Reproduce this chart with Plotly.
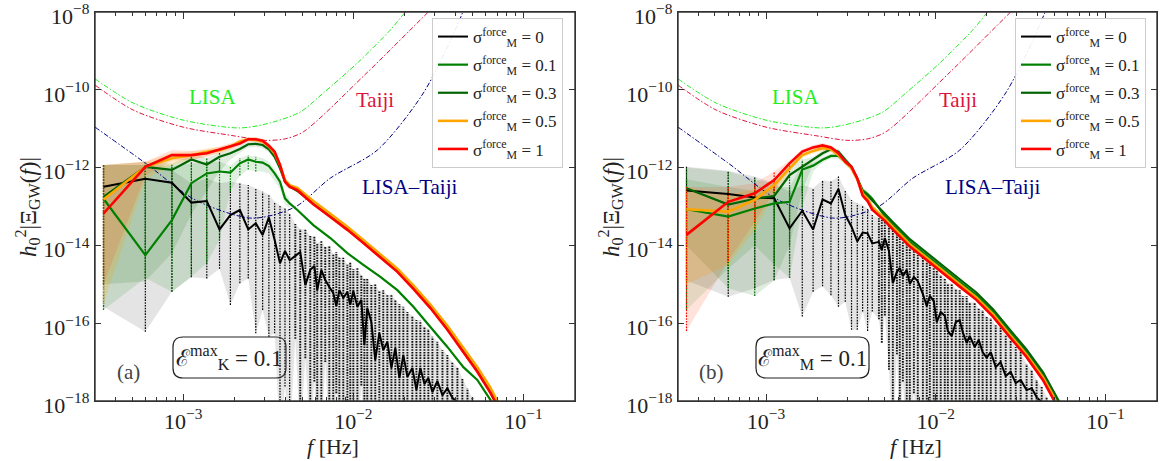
import numpy as np
import plotly.graph_objects as go

W, H = 1167, 461
FONT = "Liberation Serif"

# ------------------------------------------------------------------
# DATA  (frequencies in Hz, amplitudes given as log10 values)
# ------------------------------------------------------------------
freq_bins = [3.40e-4, 5.99e-4, 8.58e-4, 1.117e-3, 1.376e-3, 1.635e-3, 1.894e-3,
             2.153e-3, 2.412e-3, 2.671e-3, 2.930e-3, 3.189e-3, 3.448e-3, 3.707e-3,
             3.966e-3, 4.225e-3]

sigma_labels = ["0", "0.1", "0.3", "0.5", "1"]

# ---------------- panel (a) ----------------
a_s0_mean = [-12.49, -12.29, -12.39, -12.90, -12.86, -13.59, -13.22, -13.09, -13.59, -13.43,
             -13.73, -13.28, -13.86, -14.46, -14.14, -14.38]
a_s0_up = [-11.93, -11.93, -12.06, -12.40, -12.28, -12.40, -12.36, -12.40, -12.45, -12.53,
           -12.62, -12.70, -12.88, -12.96, -13.05, -13.18]
a_s0_lo = [-15.58, -16.22, -15.19, -14.82, -14.85, -14.60, -15.53, -14.97, -14.85, -16.26,
           -15.66, -16.35, -16.26, -19.0, -17.63, -19.0]
a_s0_hf_logf = [-2.341, -2.312, -2.282, -2.253, -2.229, -2.212, -2.188, -2.165, -2.141, -2.118,
                -2.100, -2.082, -2.059, -2.035, -2.018, -2.000, -1.976, -1.953, -1.935, -1.918,
                -1.894, -1.871, -1.847, -1.824, -1.800, -1.776, -1.753, -1.729, -1.706, -1.682,
                -1.653, -1.629, -1.606, -1.582, -1.559, -1.535, -1.506, -1.476, -1.447, -1.418,
                -1.388, -1.359, -1.329, -1.300]
a_s0_hf_mean = [-14.27, -14.17, -15.02, -14.63, -14.53, -15.15, -14.63, -14.89, -15.07, -15.22,
                -15.56, -15.15, -15.35, -15.20, -15.53, -15.17, -15.58, -15.40, -16.56, -15.61,
                -15.97, -16.95, -16.25, -16.69, -16.48, -17.15, -16.64, -17.41, -16.82, -17.38,
                -17.15, -17.72, -17.15, -17.56, -17.41, -17.77, -17.49, -17.85, -17.67, -17.92,
                -18.03, -18.13, -18.30, -18.50]
a_s0_hf_up = [-13.45, -13.58, -13.60, -13.76, -13.78, -13.94, -13.89, -14.04, -14.01, -14.22,
              -14.17, -14.32, -14.32, -14.50, -14.43, -14.61, -14.58, -14.76, -14.86, -14.84,
              -15.02, -14.99, -15.17, -15.15, -15.28, -15.25, -15.40, -15.51, -15.58, -15.71,
              -15.81, -15.92, -15.94, -16.10, -16.15, -16.35, -16.48, -16.69, -16.82, -17.00,
              -17.13, -17.41, -17.67, -17.92]
a_s0_hf_lo = [-16.4, -19.0, -16.9, -19.0, -17.5, -19.0, -19.0, -17.0, -19.0, -19.0,
              -17.8, -19.0, -19.0, -18.2, -19.0, -19.0, -19.0, -17.6, -19.0, -19.0,
              -19.0, -19.0, -18.0, -19.0, -19.0, -19.0, -19.0, -19.0, -19.0, -19.0,
              -19.0, -19.0, -19.0, -19.0, -19.0, -19.0, -19.0, -19.0, -19.0, -19.0,
              -19.0, -19.0, -19.0, -19.0]

a_s01_mean = [-12.80, -14.25, -13.35, -12.40, -12.15, -12.10, -12.13, -11.89, -11.79, -11.85,
              -11.87, -11.96, -12.15, -12.36, -12.79, -12.92]
a_s01_up = [-11.93, -11.93, -11.95, -11.90, -11.85, -11.85, -11.95, -11.75, -11.68, -11.72,
            -11.75, -11.85, -12.03, -12.25, -12.65, -12.80]
a_s01_lo = [-15.66, -14.84, -15.19, -14.80, -14.46, -13.86, -12.60, -12.20, -12.05, -12.10,
            -12.10, -12.15, -12.35, -12.55, -12.95, -13.05]
a_s03_mean = [-12.75, -11.98, -12.06, -11.79, -11.92, -11.72, -11.63, -11.52, -11.40, -11.39,
              -11.42, -11.53, -11.72, -12.02, -12.36, -12.49]
a_s03_up = [-11.93, -11.85, -11.90, -11.65, -11.75, -11.62, -11.55, -11.45, -11.33, -11.32,
            -11.35, -11.46, -11.65, -11.95, -12.28, -12.42]
a_s03_lo = [-15.00, -14.93, -14.20, -13.20, -12.60, -12.10, -11.80, -11.62, -11.48, -11.47,
            -11.50, -11.61, -11.80, -12.10, -12.45, -12.57]
a_s05_mean = [-12.82, -11.98, -11.76, -11.68, -11.59, -11.55, -11.46, -11.33, -11.27, -11.29,
              -11.33, -11.46, -11.63, -11.93, -12.32, -12.45]
a_s05_up = [-11.93, -11.85, -11.62, -11.58, -11.50, -11.47, -11.39, -11.27, -11.21, -11.23,
            -11.27, -11.39, -11.56, -11.86, -12.25, -12.38]
a_s05_lo = [-15.50, -12.30, -11.95, -11.80, -11.70, -11.64, -11.54, -11.40, -11.33, -11.35,
            -11.40, -11.53, -11.70, -12.00, -12.40, -12.52]
a_s1_mean = [-13.18, -11.98, -11.68, -11.68, -11.63, -11.53, -11.46, -11.38, -11.27, -11.27,
             -11.31, -11.44, -11.59, -11.93, -12.36, -12.49]
a_s1_up = [-11.93, -11.85, -11.55, -11.57, -11.54, -11.45, -11.39, -11.31, -11.21, -11.21,
           -11.25, -11.37, -11.52, -11.86, -12.29, -12.42]
a_s1_lo = [-15.00, -12.20, -11.82, -11.80, -11.73, -11.62, -11.54, -11.45, -11.33, -11.33,
           -11.38, -11.51, -11.66, -12.00, -12.43, -12.56]

a_col_hf_logf = [-2.329, -2.235, -2.135, -2.035, -1.941, -1.841, -1.741, -1.647, -1.547,
                 -1.447, -1.353, -1.271, -1.194, -1.120]
a_s01_hf = [-13.09, -13.48, -13.81, -14.20, -14.50, -14.81, -15.15, -15.58, -16.10,
            -16.61, -17.13, -17.46, -17.97, -18.60]
a_s03_hf = [-12.60, -12.93, -13.25, -13.58, -13.92, -14.28, -14.66, -15.10, -15.59,
            -16.15, -16.72, -17.23, -17.77, -18.40]
a_s05_hf = [-12.52, -12.86, -13.19, -13.52, -13.86, -14.22, -14.60, -15.03, -15.52,
            -16.07, -16.63, -17.13, -17.66, -18.30]
a_s1_hf = [-12.58, -12.94, -13.27, -13.60, -13.94, -14.30, -14.68, -15.12, -15.61,
           -16.17, -16.74, -17.25, -17.79, -18.40]

# ---------------- panel (b) ----------------
b_s0_mean = [-12.59, -12.68, -12.77, -12.79, -13.56, -13.11, -13.59, -12.82, -12.92, -12.55,
             -13.22, -13.52, -13.90, -13.67, -13.69, -13.95]
b_s0_up = [-11.98, -12.08, -12.23, -12.40, -12.62, -12.45, -12.53, -12.32, -12.36, -12.23,
           -12.58, -12.83, -12.92, -12.96, -13.05, -13.22]
b_s0_lo = [-14.90, -15.32, -15.10, -14.89, -14.84, -15.83, -15.19, -15.05, -15.28, -15.58,
           -15.45, -16.17, -16.17, -15.70, -16.20, -15.70]
b_s0_hf_logf = [-2.335, -2.318, -2.300, -2.276, -2.253, -2.229, -2.212, -2.194, -2.171, -2.153,
                -2.129, -2.106, -2.076, -2.053, -2.035, -2.012, -1.994, -1.971, -1.947, -1.929,
                -1.906, -1.882, -1.859, -1.841, -1.818, -1.800, -1.771, -1.747, -1.724, -1.700,
                -1.676, -1.647, -1.618, -1.588, -1.559, -1.529, -1.500, -1.465, -1.435, -1.406,
                -1.376, -1.347]
b_s0_hf_mean = [-13.91, -14.12, -13.81, -14.14, -14.97, -14.68, -14.58, -14.79, -14.63, -14.99,
                -14.81, -14.92, -15.25, -15.56, -15.30, -15.43, -15.97, -15.71, -15.81, -16.20,
                -16.33, -15.97, -15.92, -16.23, -16.51, -16.33, -16.61, -16.43, -16.74, -16.89,
                -16.74, -17.13, -17.00, -17.36, -17.25, -17.54, -17.46, -17.72, -17.67, -17.90,
                -18.03, -18.20]
b_s0_hf_up = [-13.30, -13.35, -13.37, -13.45, -13.50, -13.66, -13.71, -13.91, -13.91, -14.07,
              -14.07, -14.25, -14.27, -14.43, -14.48, -14.58, -14.63, -14.76, -14.84, -14.97,
              -14.97, -15.12, -15.15, -15.30, -15.30, -15.46, -15.46, -15.63, -15.66, -15.84,
              -15.87, -16.05, -16.12, -16.30, -16.43, -16.61, -16.74, -17.05, -17.20, -17.46,
              -17.64, -17.90]
b_s0_hf_lo = [-15.9, -16.5, -15.8, -17.2, -19.0, -16.8, -19.0, -17.5, -19.0, -19.0,
              -17.8, -19.0, -19.0, -19.0, -18.0, -19.0, -19.0, -19.0, -19.0, -19.0,
              -19.0, -19.0, -19.0, -19.0, -19.0, -19.0, -19.0, -19.0, -19.0, -19.0,
              -19.0, -19.0, -19.0, -19.0, -19.0, -19.0, -19.0, -19.0, -19.0, -19.0,
              -19.0, -19.0]

b_s01_mean = [-13.07, -13.26, -13.05, -12.92, -12.88, -12.05, -11.95, -11.80, -11.70, -11.70,
              -11.85, -12.00, -12.28, -12.58, -12.68, -12.80]
b_s01_up = [-12.30, -12.50, -12.60, -12.50, -12.50, -11.90, -11.88, -11.73, -11.63, -11.63,
            -11.78, -11.93, -12.21, -12.51, -12.61, -12.73]
b_s01_lo = [-15.66, -14.60, -14.00, -14.50, -14.84, -13.00, -12.10, -11.87, -11.77, -11.77,
            -11.92, -12.07, -12.35, -12.65, -12.75, -12.87]
b_s03_mean = [-12.53, -12.95, -12.80, -12.73, -12.19, -11.98, -11.80, -11.63, -11.53, -11.59,
              -11.80, -11.98, -12.28, -12.62, -12.72, -12.85]
b_s03_up = [-12.00, -12.10, -12.30, -12.40, -11.95, -11.80, -11.72, -11.56, -11.46, -11.52,
            -11.73, -11.91, -12.21, -12.55, -12.65, -12.78]
b_s03_lo = [-14.00, -15.10, -15.30, -14.90, -14.00, -12.60, -11.90, -11.70, -11.60, -11.66,
            -11.87, -12.05, -12.35, -12.69, -12.79, -12.92]
b_s05_mean = [-13.07, -13.13, -12.83, -12.45, -12.02, -11.68, -11.57, -11.50, -11.53, -11.68,
              -11.85, -12.02, -12.30, -12.66, -12.80, -13.02]
b_s05_up = [-12.50, -12.70, -12.55, -12.30, -11.95, -11.62, -11.51, -11.44, -11.47, -11.62,
            -11.79, -11.96, -12.24, -12.60, -12.74, -12.96]
b_s05_lo = [-15.00, -14.50, -13.60, -12.70, -12.10, -11.75, -11.64, -11.57, -11.60, -11.75,
            -11.92, -12.09, -12.37, -12.73, -12.87, -13.09]
b_s1_mean = [-13.73, -12.88, -12.66, -12.32, -11.89, -11.59, -11.48, -11.43, -11.48, -11.63,
             -11.85, -11.98, -12.28, -12.72, -12.86, -13.08]
b_s1_up = [-12.50, -12.50, -12.40, -12.10, -11.82, -11.53, -11.42, -11.37, -11.42, -11.57,
           -11.79, -11.92, -12.22, -12.66, -12.80, -13.02]
b_s1_lo = [-16.20, -14.40, -13.40, -12.60, -11.97, -11.66, -11.55, -11.50, -11.55, -11.70,
           -11.92, -12.05, -12.35, -12.79, -12.93, -13.15]

b_col_hf_logf = [-2.300, -2.251, -2.153, -2.055, -1.957, -1.859, -1.761, -1.663, -1.565,
                 -1.467, -1.369, -1.310, -1.250]
b_s01_hf = [-13.25, -13.48, -13.91, -14.26, -14.60, -14.94, -15.28, -15.71, -16.23,
            -16.74, -17.33, -17.78, -18.30]
b_s03_hf = [-13.18, -13.41, -13.84, -14.19, -14.53, -14.87, -15.21, -15.64, -16.16,
            -16.67, -17.26, -17.71, -18.20]
b_s05_hf = [-13.31, -13.54, -13.97, -14.32, -14.66, -15.00, -15.34, -15.77, -16.29,
            -16.80, -17.39, -17.85, -18.40]
b_s1_hf = [-13.37, -13.60, -14.03, -14.38, -14.72, -15.06, -15.40, -15.83, -16.35,
           -16.86, -17.46, -17.93, -18.50]

# ---------------- detector sensitivity curves (log10 f, log10 h^2 Omega) ----------------
lisa_logf = [-3.518, -3.294, -3.000, -2.665, -2.488, -2.312, -2.176, -1.976, -1.782, -1.694, -1.500]
lisa_logh = [-9.72, -10.34, -10.78, -10.98, -10.85, -10.57, -10.08, -9.31, -8.46, -8.00, -7.10]
taiji_logf = [-3.518, -3.294, -3.000, -2.706, -2.518, -2.400, -2.294, -1.929, -1.559, -1.300]
taiji_logh = [-9.88, -10.52, -10.96, -11.18, -11.30, -11.26, -11.08, -9.60, -8.00, -6.90]
lt_logf = [-3.518, -3.224, -2.929, -2.594, -2.341, -2.135, -1.859, -1.588, -1.359, -1.250]
lt_logh = [-10.96, -11.88, -12.83, -13.30, -13.01, -12.27, -11.55, -10.08, -8.03, -6.50]

# ------------------------------------------------------------------
# STYLES
# ------------------------------------------------------------------
line_colors = ["#000000", "#008000", "#006400", "#FFA500", "#FF0000"]
band_colors = ["rgba(150,150,150,0.26)", "rgba(0,128,0,0.12)", "rgba(0,100,0,0.12)",
               "rgba(255,165,0,0.20)", "rgba(255,60,0,0.14)"]
line_widths = [2.0, 2.2, 2.2, 2.6, 2.6]

panels = {
    "a": dict(
        low=[(a_s0_mean, a_s0_up, a_s0_lo), (a_s01_mean, a_s01_up, a_s01_lo),
             (a_s03_mean, a_s03_up, a_s03_lo), (a_s05_mean, a_s05_up, a_s05_lo),
             (a_s1_mean, a_s1_up, a_s1_lo)],
        black_hf=(a_s0_hf_logf, a_s0_hf_mean, a_s0_hf_up, a_s0_hf_lo),
        col_hf_logf=a_col_hf_logf, col_hf=[a_s01_hf, a_s03_hf, a_s05_hf, a_s1_hf]),
    "b": dict(
        low=[(b_s0_mean, b_s0_up, b_s0_lo), (b_s01_mean, b_s01_up, b_s01_lo),
             (b_s03_mean, b_s03_up, b_s03_lo), (b_s05_mean, b_s05_up, b_s05_lo),
             (b_s1_mean, b_s1_up, b_s1_lo)],
        black_hf=(b_s0_hf_logf, b_s0_hf_mean, b_s0_hf_up, b_s0_hf_lo),
        col_hf_logf=b_col_hf_logf, col_hf=[b_s01_hf, b_s03_hf, b_s05_hf, b_s1_hf]),
}


def p10(v):
    return list(np.power(10.0, np.asarray(v, dtype=float)))


def bar_xy(fs, ups, los, min_span=None):
    bx, by = [], []
    for fi, ui, li in zip(fs, ups, los):
        if min_span is not None and (ui - li) < min_span:
            continue
        bx += [fi, fi, None]
        by += [10 ** li, 10 ** ui, None]
    return bx, by


fig = go.Figure()
NLOW = len(freq_bins)

for pi, (key, P) in enumerate(panels.items()):
    xa = "x" if pi == 0 else "x2"
    ya = "y" if pi == 0 else "y2"
    leg = "legend" if pi == 0 else "legend2"

    series = []
    for si in range(5):
        mean, up, lo = P["low"][si]
        if si == 0:
            hf_f, hf_m, hf_u, hf_l = P["black_hf"]
            f = list(freq_bins) + p10(hf_f)
            m = list(mean) + list(hf_m)
            u = list(up) + list(hf_u)
            l = list(lo) + list(hf_l)
            fb = f
        else:
            f = list(freq_bins) + p10(P["col_hf_logf"])
            m = list(mean) + list(P["col_hf"][si - 1])
            u = list(up)
            l = list(lo)
            fb = list(freq_bins)
        series.append((f, m, fb, u, l))

    # shaded bands
    for si in range(5):
        f, m, fb, u, l = series[si]
        fig.add_trace(go.Scatter(
            x=fb + fb[::-1], y=p10(u) + p10(l[::-1]), fill="toself",
            fillcolor=band_colors[si], line=dict(width=0), mode="lines",
            xaxis=xa, yaxis=ya, showlegend=False, hoverinfo="skip"))

    # dotted error bars
    f, m, fb, u, l = series[0]
    bx, by = bar_xy(fb[:NLOW], u[:NLOW], l[:NLOW])
    fig.add_trace(go.Scatter(x=bx, y=by, mode="lines",
                             line=dict(color="#000000", width=1.2, dash="1.6px,1.2px"),
                             xaxis=xa, yaxis=ya, showlegend=False, hoverinfo="skip"))
    bx, by = bar_xy(fb[NLOW:], u[NLOW:], l[NLOW:])
    fig.add_trace(go.Scatter(x=bx, y=by, mode="lines",
                             line=dict(color="#111111", width=1.9, dash="1.6px,1.1px"),
                             xaxis=xa, yaxis=ya, showlegend=False, hoverinfo="skip"))
    for si in range(1, 5):
        f, m, fb, u, l = series[si]
        bx, by = bar_xy(fb, u, l, min_span=0.35)
        fig.add_trace(go.Scatter(
            x=bx, y=by, mode="lines",
            line=dict(color=line_colors[si], width=1.2, dash="1.6px,1.2px"),
            xaxis=xa, yaxis=ya, showlegend=False, hoverinfo="skip"))

    # sensitivity curves
    for lf, lh, col in [(lisa_logf, lisa_logh, "#22ee22"),
                        (taiji_logf, taiji_logh, "#DC143C"),
                        (lt_logf, lt_logh, "#000080")]:
        fig.add_trace(go.Scatter(
            x=p10(lf), y=p10(lh), mode="lines",
            line=dict(color=col, width=1, dash="5px,2px,1.5px,2px", shape="spline", smoothing=0.8),
            xaxis=xa, yaxis=ya, showlegend=False, hoverinfo="skip"))

    # mean lines
    for si in range(5):
        f, m, fb, u, l = series[si]
        fig.add_trace(go.Scatter(
            x=f, y=p10(m), mode="lines",
            line=dict(color=line_colors[si], width=line_widths[si]),
            name="σ<sup>force</sup><sub>M</sub> = " + sigma_labels[si],
            legendgroup=key + str(si),
            xaxis=xa, yaxis=ya, legend=leg, showlegend=True, hoverinfo="skip"))

# invisible anchor traces for the top (tick-only) axes
for xa_top, ya in (("x3", "y"), ("x4", "y2")):
    fig.add_trace(go.Scatter(x=[1e-3], y=[1e-13], xaxis=xa_top, yaxis=ya, mode="markers",
                             marker=dict(opacity=0), showlegend=False, hoverinfo="skip"))

# ------------------------------------------------------------------
# LAYOUT
# ------------------------------------------------------------------
def px_x(x):
    return x / W


def px_y(y):
    return 1 - y / H


dom_a = [px_x(95), px_x(575)]
dom_b = [px_x(678), px_x(1157)]
dom_y = [px_y(401), px_y(12)]
XR = [np.log10(3.03e-4), np.log10(0.201)]

minor_x = [k * 10.0 ** e for e in (-4, -3, -2, -1) for k in range(2, 10)]
minor_x = [v for v in minor_x if 3.03e-4 < v < 0.2]

AX = dict(showline=True, linecolor="#333333", linewidth=1.4, automargin=False,
          ticks="inside", tickcolor="#333333", tickwidth=1, showgrid=False, zeroline=False,
          tickfont=dict(family=FONT, size=22, color="#222222"))
MINOR = dict(ticks="inside", ticklen=4, tickvals=minor_x, tickcolor="#333333", showgrid=False)


def xaxis(domain, anchor):
    d = dict(AX)
    d.update(type="log", domain=domain, anchor=anchor, range=XR, ticklen=7, mirror=True,
             tickvals=[1e-3, 1e-2, 1e-1],
             ticktext=["10<sup>−3</sup>", "10<sup>−2</sup>", "10<sup>−1</sup>"],
             minor=MINOR)
    return d


def xaxis_top(over, anchor):
    d = dict(AX)
    d.update(type="log", overlaying=over, side="top", anchor=anchor, range=XR, ticklen=7,
             tickvals=[1e-3, 1e-2, 1e-1], showticklabels=False, minor=MINOR)
    return d


def yaxis(domain, anchor):
    d = dict(AX)
    d.update(type="log", domain=domain, anchor=anchor, range=[-18.0005, -7.9995], ticklen=6,
             mirror="ticks", ticklabeloverflow="allow", ticklabelshift=4,
             tickvals=[10.0 ** e for e in (-18, -16, -14, -12, -10, -8)],
             ticktext=["10<sup>−%d</sup>" % e for e in (18, 16, 14, 12, 10, 8)])
    return d


legend_common = dict(xanchor="left", yanchor="top", bgcolor="rgba(255,255,255,0.92)",
                     bordercolor="#cccccc", borderwidth=1,
                     font=dict(family=FONT, size=17, color="#222222"),
                     tracegroupgap=3, itemwidth=30)

CT = dict(showarrow=False, xanchor="center", yanchor="middle")
annotations = []
for off, tag, sub in [(0, "(a)", "K"), (583, "(b)", "M")]:
    xa = "x" if off == 0 else "x2"
    ya = "y" if off == 0 else "y2"
    annotations += [
        dict(CT, x=-2.824, y=-10.19, xref=xa, yref=ya, text="LISA",
             font=dict(family=FONT, size=21, color="#22ee22")),
        dict(CT, x=-1.871, y=-10.26, xref=xa, yref=ya, text="Taiji",
             font=dict(family=FONT, size=21, color="#DC143C")),
        dict(CT, x=-1.665, y=-12.50, xref=xa, yref=ya, text="LISA–Taiji",
             font=dict(family=FONT, size=21, color="#000080")),
        dict(CT, x=px_x(128 + off), y=px_y(372), xref="paper", yref="paper", text=tag,
             font=dict(family=FONT, size=21, color="#444444")),
        dict(CT, x=px_x(229.5 + off), y=px_y(357), xref="paper", yref="paper",
             text="ℰ<sup>max</sup><sub>" + sub + "</sub> = 0.1",
             font=dict(family=FONT, size=23, color="#222222")),
        dict(CT, x=px_x(333 + off), y=px_y(446), xref="paper", yref="paper",
             text="<i>f</i> [Hz]",
             font=dict(family=FONT, size=22, color="#222222")),
        dict(CT, x=px_x(27 + off), y=px_y(207), xref="paper", yref="paper",
             text="<i>h</i><sub>0</sub><sup>2</sup>|Ξ<sub>GW</sub>(<i>f</i>)|",
             textangle=-90,
             font=dict(family=FONT, size=23, color="#222222")),
    ]


def rounded(x0, y0, x1, y1, r):
    X0, X1 = px_x(x0), px_x(x1)
    Y0, Y1 = px_y(y1), px_y(y0)
    rx, ry = r / W, r / H
    return (f"M {X0+rx},{Y0} L {X1-rx},{Y0} Q {X1},{Y0} {X1},{Y0+ry} "
            f"L {X1},{Y1-ry} Q {X1},{Y1} {X1-rx},{Y1} L {X0+rx},{Y1} "
            f"Q {X0},{Y1} {X0},{Y1-ry} L {X0},{Y0+ry} Q {X0},{Y0} {X0+rx},{Y0} Z")


shapes = [dict(type="path", xref="paper", yref="paper", layer="below",
               path=rounded(173 + off, 337, 286 + off, 378, 10),
               line=dict(color="#222222", width=1.2), fillcolor="rgba(255,255,255,0)")
          for off in (0, 583)]
for xd, yd in (("x domain", "y domain"), ("x2 domain", "y2 domain")):
    shapes.append(dict(type="rect", xref=xd, yref=yd, x0=0, x1=1, y0=0, y1=1,
                       line=dict(color="#333333", width=1.4), fillcolor="rgba(0,0,0,0)",
                       layer="above"))

fig.update_layout(
    width=W, height=H, autosize=False,
    margin=dict(l=0, r=0, t=0, b=0, pad=0, autoexpand=False),
    paper_bgcolor="white", plot_bgcolor="white",
    font=dict(family=FONT, color="#222222"),
    xaxis=xaxis(dom_a, "y"), yaxis=yaxis(dom_y, "x"),
    xaxis2=xaxis(dom_b, "y2"), yaxis2=yaxis(dom_y, "x2"),
    xaxis3=xaxis_top("x", "y"), xaxis4=xaxis_top("x2", "y2"),
    legend=dict(legend_common, x=px_x(432), y=px_y(18)),
    legend2=dict(legend_common, x=px_x(1015), y=px_y(18)),
    annotations=annotations, shapes=shapes,
)

fig.write_html(
    "out.html",
    config={"displayModeBar": False},
    post_script="document.body.style.margin='0px';document.body.style.padding='0px';"
                "document.body.style.overflow='hidden';",
)
